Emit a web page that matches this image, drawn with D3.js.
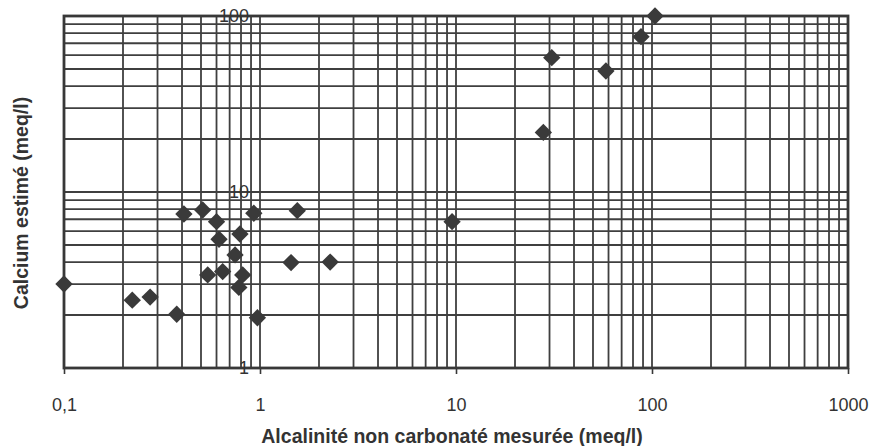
<!DOCTYPE html>
<html>
<head>
<meta charset="utf-8">
<script src="https://cdn.jsdelivr.net/npm/d3@7"></script>
<style>
  html, body { margin: 0; padding: 0; background: #fff; }
  svg { display: block; }
  text { font-family: "Liberation Sans", Arial, Helvetica, sans-serif; fill: #333; }
</style>
</head>
<body>
<svg id="chart" width="872" height="446"></svg>
<script>
// Data: measured non-carbonate alkalinity (meq/l) vs estimated calcium (meq/l)
const alcalinite = [0.1, 0.223, 0.275, 0.376, 0.409, 0.51, 0.60, 0.618, 0.79, 0.93,
                    0.746, 0.541, 0.645, 0.816, 0.78, 0.97, 1.55, 1.44, 2.28, 9.55,
                    30.8, 27.9, 58.2, 87.9, 103.6];
const calcium    = [3.0, 2.43, 2.53, 2.02, 7.5, 7.9, 6.78, 5.39, 5.77, 7.57,
                    4.39, 3.38, 3.53, 3.38, 2.87, 1.93, 7.83, 3.97, 4.0, 6.78,
                    58, 21.8, 48.7, 76.3, 100];
const xTickValues = [0.1, 1, 10, 100, 1000];
const xTickLabels = ["0,1", "1", "10", "100", "1000"];
const yTickValues = [1, 10, 100];
const yTickLabels = ["1", "10", "100"];
const xTitle = "Alcalinité non carbonaté mesurée (meq/l)";
const yTitle = "Calcium estimé (meq/l)";

const svg = d3.select("#chart");
const mLeft = 64, mRight = 848, mTop = 16, mBottom = 368;

const x = d3.scaleLog().domain([0.1, 1000]).range([mLeft, mRight]);
const y = d3.scaleLog().domain([1, 100]).range([mBottom, mTop]);

const gridColor = "#3f3f3f";

// minor + major grid lines
const xGrid = [];
for (let e = -1; e < 3; e++) for (let m = 1; m <= 9; m++) xGrid.push(m * Math.pow(10, e));
xGrid.push(1000);
const yGrid = [];
for (let e = 0; e < 2; e++) for (let m = 1; m <= 9; m++) yGrid.push(m * Math.pow(10, e));
yGrid.push(100);

svg.append("g").selectAll("line").data(xGrid).join("line")
  .attr("x1", d => x(d)).attr("x2", d => x(d))
  .attr("y1", mTop).attr("y2", mBottom)
  .attr("stroke", gridColor).attr("stroke-width", 1.8);

svg.append("g").selectAll("line").data(yGrid).join("line")
  .attr("x1", mLeft).attr("x2", mRight)
  .attr("y1", d => y(d)).attr("y2", d => y(d))
  .attr("stroke", gridColor).attr("stroke-width", 1.8);

// frame
svg.append("rect")
  .attr("x", mLeft).attr("y", mTop)
  .attr("width", mRight - mLeft).attr("height", mBottom - mTop)
  .attr("fill", "none").attr("stroke", "#383838").attr("stroke-width", 2.8);

// x axis (bottom) with major ticks below
const xAxis = d3.axisBottom(x)
  .tickValues(xTickValues)
  .tickFormat((d, i) => xTickLabels[i])
  .tickSize(6).tickPadding(24);
const gx = svg.append("g").attr("transform", `translate(0,${mBottom})`).call(xAxis);
gx.select(".domain").remove();
gx.selectAll("line").attr("stroke", "#383838").attr("stroke-width", 1.6);
gx.selectAll("text").attr("font-size", 18).attr("fill", "#2e2e2e")
  .attr("font-family", "'Liberation Sans', Arial, sans-serif");

// y axis labels placed near x≈0.9 (as in the source chart)
const yAxis = d3.axisLeft(y)
  .tickValues(yTickValues)
  .tickFormat((d, i) => yTickLabels[i])
  .tickSize(0).tickPadding(0);
const gy = svg.append("g").attr("transform", `translate(249,0)`).call(yAxis);
gy.select(".domain").remove();
gy.selectAll("text").attr("font-size", 18).attr("fill", "#2e2e2e")
  .attr("font-family", "'Liberation Sans', Arial, sans-serif");

// points (diamonds)
const pts = alcalinite.map((a, i) => ({ a, c: calcium[i] }));
svg.append("g").selectAll("path").data(pts).join("path")
  .attr("d", d3.symbol().type(d3.symbolSquare).size(150))
  .attr("transform", d => `translate(${x(d.a)},${y(d.c)}) rotate(45)`)
  .attr("fill", "#3a3a3a");

// titles
svg.append("text")
  .attr("x", 452).attr("y", 443)
  .attr("text-anchor", "middle")
  .attr("font-size", 19.5).attr("font-weight", "bold")
  .text(xTitle);

svg.append("text")
  .attr("transform", "translate(28,203) rotate(-90)")
  .attr("text-anchor", "middle")
  .attr("font-size", 19.5).attr("font-weight", "bold")
  .text(yTitle);
</script>
</body>
</html>
